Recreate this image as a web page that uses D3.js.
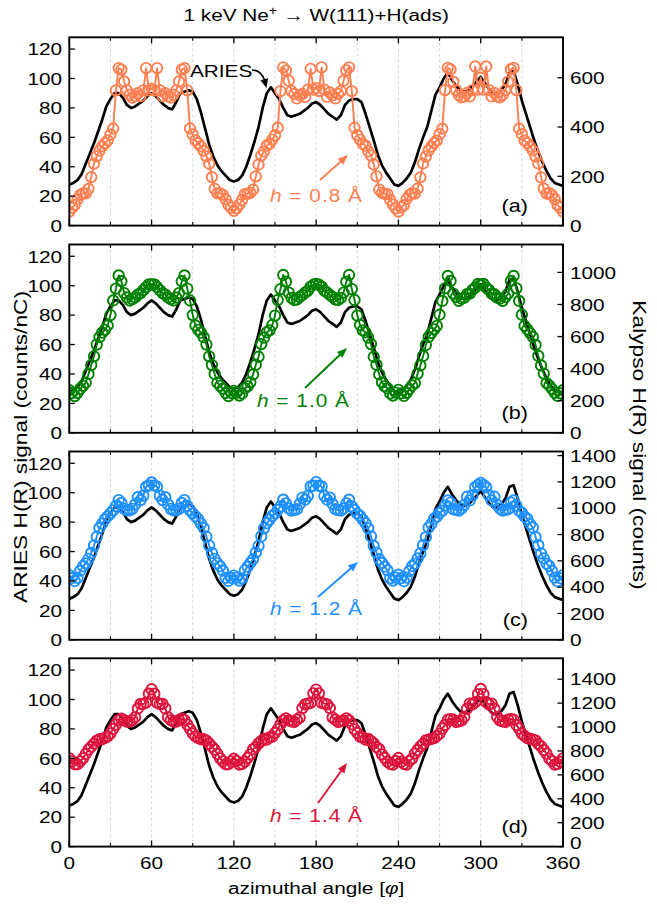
<!DOCTYPE html>
<html><head><meta charset="utf-8">
<script src="https://cdn.jsdelivr.net/npm/d3@7"></script>
<style>
body{margin:0;background:#fff}
svg{display:block}
text{font-family:"Liberation Sans",Arial,Helvetica,sans-serif;fill:#000}
</style>
</head><body>
<svg id="chart" width="657" height="905"></svg>
<script>
// ---------------- DATA ----------------
const ariesAngle=[0,3,6,9,12,15,18,21,24,27,30,33,36,39,42,45,48,51,54,57,60,63,66,69,72,75,78,81,84,87,90,93,96,99,102,105,108,111,114,117,120,123,126,129,132,135,138,141,144,147,150,153,156,159,162,165,168,171,174,177,180,183,186,189,192,195,198,201,204,207,210,213,216,219,222,225,228,231,234,237,240,243,246,249,252,255,258,261,264,267,270,273,276,279,282,285,288,291,294,297,300,303,306,309,312,315,318,321,324,327,330,333,336,339,342,345,348,351,354,357,360];
const ariesSignal=[28,29,31,35,42,49,56,64,72,81,86,90,90,87,82,80,81,83,85,88,90,88,85,82,80,79,84,90,91,92,91,86,77,66,55,47,41,37,34,31,30,31,34,40,48,57,67,80,90,94,90,86,80,75,74,75,76,78,80,83,84,82,79,76,74,72,75,82,85,86,86,84,76,67,58,48,41,36,32,28,27,29,32,36,43,52,60,67,78,89,94,100,104,99,95,92,91,92,95,98,101,97,93,90,90,92,96,104,105,96,85,76,67,58,50,43,37,32,29,28,27];

const kalypsoAngle=[0,2,4,6,8,10,12,14,16,18,20,22,24,26,28,30,32,34,36,38,40,42,44,46,48,50,52,54,56,58,60,62,64,66,68,70,72,74,76,78,80,82,84,86,88,90,92,94,96,98,100,102,104,106,108,110,112,114,116,118,120,122,124,126,128,130,132,134,136,138,140,142,144,146,148,150,152,154,156,158,160,162,164,166,168,170,172,174,176,178,180,182,184,186,188,190,192,194,196,198,200,202,204,206,208,210,212,214,216,218,220,222,224,226,228,230,232,234,236,238,240,242,244,246,248,250,252,254,256,258,260,262,264,266,268,270,272,274,276,278,280,282,284,286,288,290,292,294,296,298,300,302,304,306,308,310,312,314,316,318,320,322,324,326,328,330,332,334,336,338,340,342,344,346,348,350,352,354,356,358,360];

// h = 0.8 Å
const kalypsoH08=[57,72,84,107,125,131,131,149,197,251,281,304,322,334,346,370,394,549,639,633,585,549,531,519,525,537,525,549,639,549,555,549,639,549,525,537,525,519,531,549,585,633,639,549,394,370,346,334,322,304,281,251,197,149,131,131,125,107,84,72,
60,70,86,104,128,129,133,146,200,248,284,301,325,331,349,367,397,546,642,630,588,546,534,516,528,534,522,552,636,552,558,546,642,552,522,540,528,516,534,546,588,630,642,546,397,367,349,331,325,301,284,248,200,146,133,129,128,104,86,70,
57,73,83,108,124,132,130,150,196,252,280,305,321,335,345,371,393,550,640,634,584,550,530,520,524,538,524,550,646,552,600,552,646,550,524,538,524,520,530,550,584,634,640,550,393,371,345,335,321,305,280,252,196,150,130,132,124,108,83,73,
57];
// h = 1.0 Å
const kalypsoH10=[266,248,229,248,275,293,312,367,422,477,550,596,624,642,669,734,825,899,981,945,871,844,825,834,844,862,871,889,908,926,926,926,908,889,871,862,844,834,825,844,871,945,981,899,825,734,669,642,624,596,550,477,422,367,312,293,275,248,229,248,
262,251,232,245,278,290,315,364,425,474,553,593,627,639,672,731,828,896,984,942,874,841,828,831,847,859,874,886,911,923,929,923,911,886,874,859,847,831,828,841,874,942,984,896,828,731,672,639,627,593,553,474,425,364,315,290,278,245,232,251,
268,246,230,249,273,295,310,369,420,479,548,598,622,645,667,736,822,901,978,947,868,846,823,836,842,864,868,891,905,928,924,928,905,891,868,864,842,836,823,846,868,947,978,901,822,736,667,645,622,598,548,479,420,369,310,295,273,249,230,246,
266];
// h = 1.2 Å
const kalypsoH12=[492,470,447,470,525,559,581,615,660,716,783,850,883,917,939,961,984,1017,1062,1040,995,984,984,995,1029,1084,1062,1096,1163,1174,1196,1174,1163,1096,1062,1084,1029,995,984,984,995,1040,1062,1017,984,961,939,917,883,850,783,716,660,615,581,559,525,470,447,470,
488,473,450,467,528,556,584,612,663,713,786,847,886,914,942,958,987,1014,1065,1037,998,981,987,992,1032,1081,1065,1093,1166,1171,1199,1171,1166,1093,1065,1081,1032,992,987,981,998,1037,1065,1014,987,958,942,914,886,847,786,713,663,612,584,556,528,467,450,473,
495,468,445,472,523,561,578,618,657,719,780,853,880,920,936,964,981,1020,1059,1043,992,987,981,998,1026,1087,1059,1099,1160,1177,1193,1177,1160,1099,1059,1087,1026,998,981,987,992,1043,1059,1020,981,964,936,920,880,853,780,719,657,618,578,561,523,472,445,468,
492];
// h = 1.4 Å
const kalypsoH14=[738,713,689,689,713,738,775,812,836,861,886,898,898,910,922,947,984,1021,1058,1070,1058,1045,1045,1058,1082,1156,1193,1193,1205,1279,1316,1279,1205,1193,1193,1156,1082,1058,1045,1045,1058,1070,1058,1021,984,947,922,910,898,898,886,861,836,812,775,738,713,689,689,713,
735,716,686,692,710,741,772,815,833,864,883,901,895,913,919,950,981,1024,1055,1073,1055,1048,1042,1061,1079,1159,1190,1196,1202,1282,1313,1282,1202,1196,1190,1159,1079,1061,1042,1048,1055,1073,1055,1024,981,950,919,913,895,901,883,864,833,815,772,741,710,692,686,716,
741,710,692,686,716,735,778,809,839,858,889,895,901,907,925,944,987,1018,1061,1067,1061,1042,1048,1055,1085,1153,1196,1190,1208,1276,1319,1276,1208,1190,1196,1153,1085,1055,1048,1042,1061,1067,1061,1018,987,944,925,907,901,895,889,858,839,809,778,735,716,686,692,710,
738];

const panelLabels=["(a)","(b)","(c)","(d)"];
const heightLabels=["0.8","1.0","1.2","1.4"];
const seriesColors=["#FF7F50","#008000","#1E90FF","#DC143C"];
const leftMax=128;
const rightMax=[764,1174,1431,1575];
const leftTicks=[0,20,40,60,80,100,120];
const rightTicks=[[0,200,400,600],[0,200,400,600,800,1000],[0,200,400,600,800,1000,1200,1400],[0,200,400,600,800,1000,1200,1400]];
const xTicks=[0,60,120,180,240,300,360];
const xMinorTicks=[30,90,150,210,270,330];
const xGrid=[30,60,90,120,150,180,210,240,270,300,330];

// ---------------- LAYOUT ----------------
const W=657,Hh=905;
const L=69.3,R=563;
const tops=[37.3,244.5,451.5,658.3];
const PH=188.3;
const SX=1.2;       // horizontal stretch of the lettering
const FS=17.3;
const annot=[
  {tx:270,ty:202,x1:320,y1:180,x2:348,y2:155},
  {tx:257,ty:407,x1:305,y1:388,x2:347,y2:348},
  {tx:270,ty:615,x1:318,y1:597,x2:358,y2:562},
  {tx:270,ty:821.5,x1:318,y1:803,x2:347,y2:763}
];

const svg=d3.select("#chart");
svg.append("rect").attr("width",W).attr("height",Hh).attr("fill","#fff");
const defs=svg.append("defs");
const x=d3.scaleLinear().domain([0,360]).range([L,R]);
const seriesList=[kalypsoH08,kalypsoH10,kalypsoH12,kalypsoH14];

function txt(parent,px,py,anchor,size,sx){
  return parent.append("text")
    .attr("transform",`translate(${px},${py}) scale(${sx||SX},1)`)
    .attr("text-anchor",anchor||"start")
    .style("font-size",(size||FS)+"px");
}
function arrowHead(g,x1,y1,x2,y2,color,len,hw){
  const dx=x2-x1,dy=y2-y1,d=Math.hypot(dx,dy),ux=dx/d,uy=dy/d;
  const bx=x2-ux*len,by=y2-uy*len;
  g.append("path")
    .attr("d",`M${x2},${y2}L${bx-uy*hw},${by+ux*hw}L${bx+uy*hw},${by-ux*hw}Z`)
    .attr("fill",color).attr("stroke","none");
  return [bx+ux*1,by+uy*1];
}

tops.forEach((top,i)=>{
  const bot=top+PH;
  const yL=d3.scaleLinear().domain([0,leftMax]).range([bot,top]);
  const yR=d3.scaleLinear().domain([0,rightMax[i]]).range([bot,top]);
  const g=svg.append("g");
  const cid="clip"+i;
  defs.append("clipPath").attr("id",cid).append("rect")
    .attr("x",L).attr("y",top).attr("width",R-L).attr("height",PH);

  // grid
  g.append("g").selectAll("line").data(xGrid).join("line")
    .attr("x1",d=>x(d)).attr("x2",d=>x(d)).attr("y1",top).attr("y2",bot)
    .attr("stroke","#cfcfcf").attr("stroke-width",0.8).attr("stroke-dasharray","3,2.5");

  const plot=g.append("g").attr("clip-path",`url(#${cid})`);
  // ARIES line (left axis)
  const ariesPts=ariesAngle.map((a,k)=>[a,ariesSignal[k]]);
  plot.append("path").datum(ariesPts)
    .attr("d",d3.line().x(d=>x(d[0])).y(d=>yL(d[1])))
    .attr("fill","none").attr("stroke","#000").attr("stroke-width",2.7)
    .attr("stroke-linejoin","round");
  // Kalypso series (right axis)
  const col=seriesColors[i];
  const kPts=kalypsoAngle.map((a,k)=>[a,seriesList[i][k]]);
  plot.append("path").datum(kPts)
    .attr("d",d3.line().x(d=>x(d[0])).y(d=>yR(d[1])))
    .attr("fill","none").attr("stroke",col).attr("stroke-width",1.9)
    .attr("stroke-linejoin","round");
  plot.append("g").selectAll("circle").data(kPts).join("circle")
    .attr("cx",d=>x(d[0])).attr("cy",d=>yR(d[1])).attr("r",5.2)
    .attr("fill","none").attr("stroke",col).attr("stroke-width",1.9);

  // frame
  g.append("rect").attr("x",L).attr("y",top).attr("width",R-L).attr("height",PH)
    .attr("fill","none").attr("stroke","#000").attr("stroke-width",1.9);

  // left axis ticks and labels
  const axG=g.append("g");
  leftTicks.forEach(v=>{
    axG.append("line").attr("x1",L).attr("x2",L+5.5).attr("y1",yL(v)).attr("y2",yL(v))
      .attr("stroke","#000").attr("stroke-width",1.3);
    txt(axG,62,yL(v),"end").attr("dy","0.36em").text(v);
  });
  // right axis ticks and labels
  rightTicks[i].forEach(v=>{
    axG.append("line").attr("x1",R-5.5).attr("x2",R).attr("y1",yR(v)).attr("y2",yR(v))
      .attr("stroke","#000").attr("stroke-width",1.3);
    const ly=(i===tops.length-1&&v===0)?yR(v)-4:yR(v);
    txt(axG,570,ly,"start").attr("dy","0.36em").text(v);
  });
  // x ticks top and bottom
  xTicks.forEach(v=>{
    axG.append("line").attr("x1",x(v)).attr("x2",x(v)).attr("y1",bot).attr("y2",bot-6)
      .attr("stroke","#000").attr("stroke-width",1.3);
    axG.append("line").attr("x1",x(v)).attr("x2",x(v)).attr("y1",top).attr("y2",top+6)
      .attr("stroke","#000").attr("stroke-width",1.3);
  });
  xMinorTicks.forEach(v=>{
    axG.append("line").attr("x1",x(v)).attr("x2",x(v)).attr("y1",bot).attr("y2",bot-3.5)
      .attr("stroke","#000").attr("stroke-width",1.1);
    axG.append("line").attr("x1",x(v)).attr("x2",x(v)).attr("y1",top).attr("y2",top+3.5)
      .attr("stroke","#000").attr("stroke-width",1.1);
  });

  // panel label
  txt(g,528,bot-13.5,"end",18).text(panelLabels[i]);

  // h annotation
  const a=annot[i];
  const t=txt(g,a.tx,a.ty,"start",19,1.1).style("fill",col)
    .attr("textLength",92/1.1).attr("lengthAdjust","spacing");
  t.append("tspan").style("font-style","italic").style("fill",col).text("h");
  t.append("tspan").style("fill",col).text(" = "+heightLabels[i]+" Å");
  const end=arrowHead(g,a.x1,a.y1,a.x2,a.y2,col,10,4);
  g.append("line").attr("x1",a.x1).attr("y1",a.y1).attr("x2",end[0]).attr("y2",end[1])
    .attr("stroke",col).attr("stroke-width",1.9);
});

// x tick labels (bottom panel)
const xl=svg.append("g");
xTicks.forEach(v=>{ txt(xl,x(v),868.5,"middle").text(v); });
const xlab=txt(xl,(L+R)/2,894,"middle");
xlab.append("tspan").text("azimuthal angle [");
xlab.append("tspan").style("font-style","italic").text("φ");
xlab.append("tspan").text("]");

// title
const title=txt(svg,(L+R)/2,20.5,"middle");
title.append("tspan").text("1 keV Ne");
title.append("tspan").attr("dy","-6").style("font-size","12px").text("+");
title.append("tspan").attr("dy","6").text(" → W(111)+H(ads)");

// ARIES annotation
const ag=svg.append("g");
txt(ag,190,76.5,"start").text("ARIES");
const aEnd=arrowHead(ag,263,74,266.5,88,"#000",9,4);
ag.append("path").attr("d",`M252,70 Q261,70 ${aEnd[0]},${aEnd[1]}`)
  .attr("fill","none").attr("stroke","#000").attr("stroke-width",1.6);

// axis titles
svg.append("text")
  .attr("transform",`translate(27,447) rotate(-90) scale(1.3,1)`)
  .attr("text-anchor","middle").style("font-size","17.5px")
  .text("ARIES H(R) signal (counts/nC)");
svg.append("text")
  .attr("transform",`translate(633,445) rotate(90) scale(1.3,1)`)
  .attr("text-anchor","middle").style("font-size","17.5px")
  .text("Kalypso H(R) signal (counts)");
</script>
</body></html>
